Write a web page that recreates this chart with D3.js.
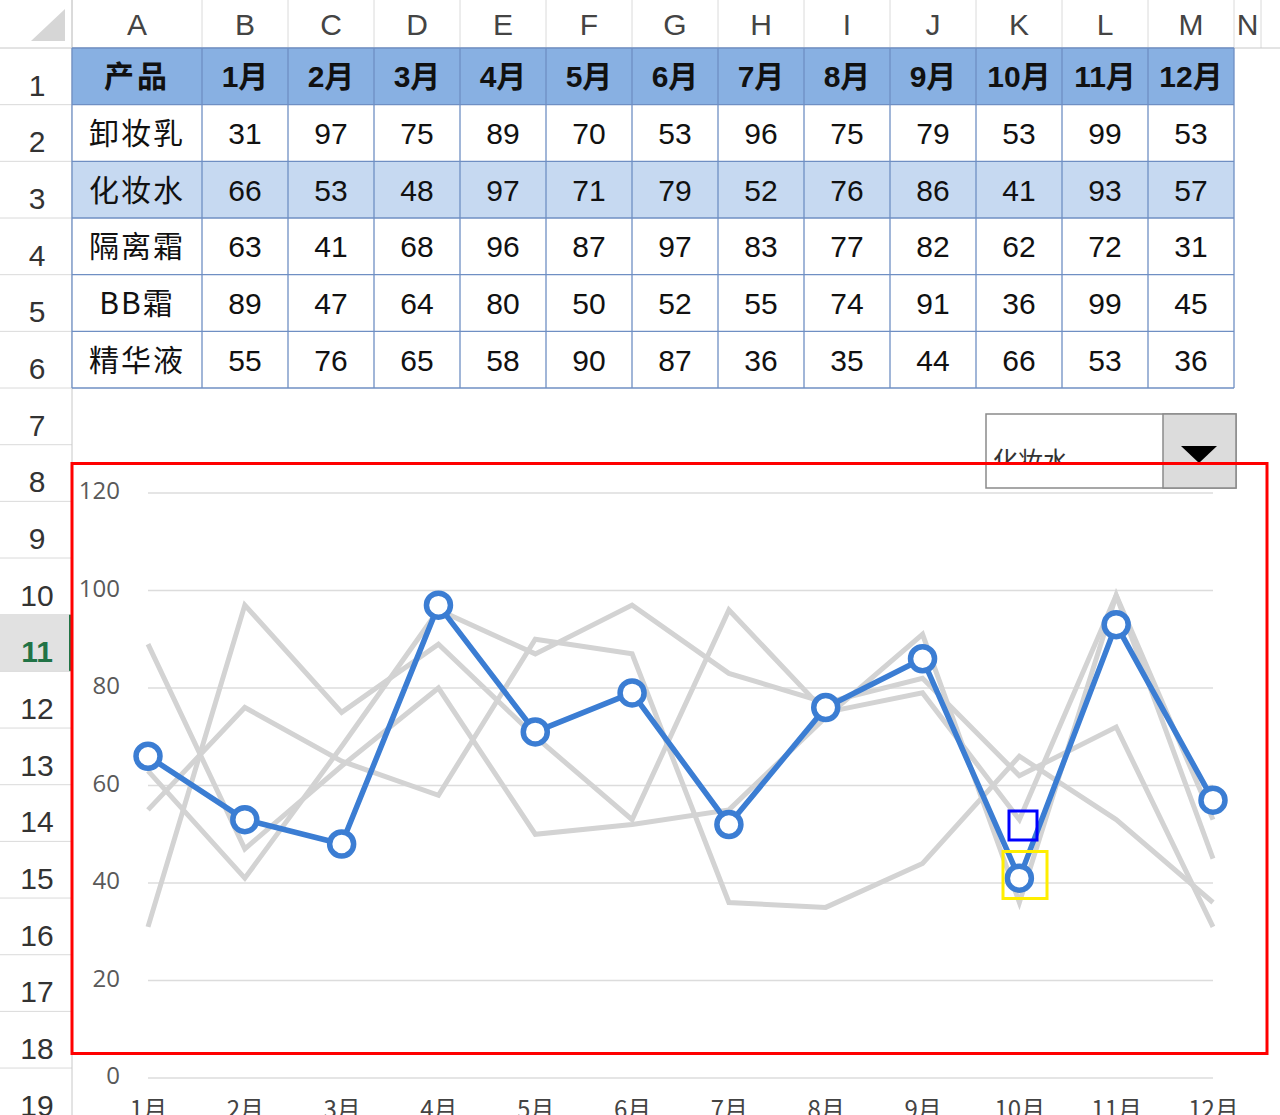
<!DOCTYPE html>
<html><head><meta charset="utf-8">
<script src="https://cdn.jsdelivr.net/npm/d3@7"></script>
<style>
html,body{margin:0;padding:0;background:#fff;overflow:hidden}
svg{display:block}
</style></head>
<body>
<svg id="c" width="1280" height="1115"></svg>
<script>
// ---------- data ----------
const months = ["1月","2月","3月","4月","5月","6月","7月","8月","9月","10月","11月","12月"];
const products = ["卸妆乳","化妆水","隔离霜","BB霜","精华液"];
const s卸妆乳 = [31,97,75,89,70,53,96,75,79,53,99,53];
const s化妆水 = [66,53,48,97,71,79,52,76,86,41,93,57];
const s隔离霜 = [63,41,68,96,87,97,83,77,82,62,72,31];
const sBB霜   = [89,47,64,80,50,52,55,74,91,36,99,45];
const s精华液 = [55,76,65,58,90,87,36,35,44,66,53,36];
const seriesValues = [s卸妆乳, s化妆水, s隔离霜, sBB霜, s精华液];
const selectedProduct = "化妆水";
const yTicks = [0,20,40,60,80,100,120];
const colLetters = ["A","B","C","D","E","F","G","H","I","J","K","L","M","N"];
const headerLabel = "产品";

// ---------- layout ----------
const svg = d3.select("#c");
const FONT = "'Liberation Sans','Noto Sans CJK SC',Arial,sans-serif";
const CJK = "'Noto Sans CJK SC','Liberation Sans',sans-serif";
const rowTop = 48, rowH = 56.67, rowHdrW = 72;
const colA = [72, 202];
const xBand = d3.scaleBand().domain(months).range([202, 1234]).paddingInner(0).paddingOuter(0);
const rowY = n => rowTop + (n - 1) * rowH;   // top of sheet row n (1-based)

// ---------- sheet chrome ----------
svg.append("rect").attr("x",0).attr("y",0).attr("width",1280).attr("height",48).attr("fill","#ffffff");
svg.append("rect").attr("x",0).attr("y",48).attr("width",rowHdrW).attr("height",1115-48).attr("fill","#ffffff");
svg.append("path").attr("d","M65,9 L65,41 L31,41 Z").attr("fill","#d6d6d6");

const colEdges = [72,202].concat(xBand.domain().map(m => xBand(m) + xBand.bandwidth())).concat([1261]);
colEdges.forEach(x => {
  svg.append("line").attr("x1",x).attr("x2",x).attr("y1",0).attr("y2",48).attr("stroke","#dadada").attr("stroke-width",1);
});
colLetters.forEach((L,i) => {
  const cx = (colEdges[i] + colEdges[i+1]) / 2;
  svg.append("text").attr("x",cx).attr("y",35).attr("text-anchor","middle")
    .attr("font-family",FONT).attr("font-size",30).attr("fill","#444").text(L);
});
svg.append("line").attr("x1",0).attr("x2",1280).attr("y1",48).attr("y2",48).attr("stroke","#c8c8c8");

for (let n = 1; n <= 19; n++) {
  const top = rowY(n), bot = rowY(n+1);
  if (n === 11) {
    svg.append("rect").attr("x",0).attr("y",top).attr("width",rowHdrW-2).attr("height",rowH).attr("fill","#e1e1e1");
    svg.append("line").attr("x1",rowHdrW-2).attr("x2",rowHdrW-2).attr("y1",top).attr("y2",bot).attr("stroke","#217346").attr("stroke-width",2);
  }
  svg.append("line").attr("x1",0).attr("x2",rowHdrW).attr("y1",bot).attr("y2",bot).attr("stroke","#dadada");
  svg.append("text").attr("x",37).attr("y",bot-9).attr("text-anchor","middle")
    .attr("font-family",FONT).attr("font-size",30)
    .attr("font-weight", n===11 ? "bold" : "normal")
    .attr("fill", n===11 ? "#217346" : "#333").text(n);
}
svg.append("line").attr("x1",rowHdrW).attr("x2",rowHdrW).attr("y1",0).attr("y2",1115).attr("stroke","#c8c8c8");

// ---------- table ----------
const tbl = svg.append("g");
const borderC = "#6f8fc3";
tbl.append("rect").attr("x",colA[0]).attr("y",rowY(1)).attr("width",1234-colA[0]).attr("height",rowH).attr("fill","#88b0e2");
products.forEach((p,i) => {
  const fill = p === selectedProduct ? "#c6d9f1" : "#ffffff";
  tbl.append("rect").attr("x",colA[0]).attr("y",rowY(i+2)).attr("width",1234-colA[0]).attr("height",rowH).attr("fill",fill);
});
for (let r = 0; r <= 6; r++) {
  const yy = rowY(r+1);
  tbl.append("line").attr("x1",colA[0]).attr("x2",1234).attr("y1",yy).attr("y2",yy).attr("stroke",borderC).attr("stroke-width",1.3);
}
colEdges.slice(0,14).forEach(x => {
  tbl.append("line").attr("x1",x).attr("x2",x).attr("y1",rowY(1)).attr("y2",rowY(7)).attr("stroke",borderC).attr("stroke-width",1.3);
});
tbl.append("text").attr("x",(colA[0]+colA[1])/2).attr("y",rowY(1)+rowH/2+11).attr("text-anchor","middle")
  .attr("font-family",CJK).attr("font-weight","bold").attr("font-size",30).attr("letter-spacing",3).attr("fill","#111").text(headerLabel);
months.forEach(m => {
  tbl.append("text").attr("x",xBand(m)+xBand.bandwidth()/2).attr("y",rowY(1)+rowH/2+11).attr("text-anchor","middle")
    .attr("font-family",FONT).attr("font-weight","bold").attr("font-size",30).attr("fill","#111").text(m);
});
products.forEach((p,i) => {
  const yy = rowY(i+2)+rowH/2+11;
  tbl.append("text").attr("x",(colA[0]+colA[1])/2).attr("y",yy).attr("text-anchor","middle")
    .attr("font-family",CJK).attr("font-size",30).attr("letter-spacing",2).attr("fill","#111").text(p);
  seriesValues[i].forEach((v,j) => {
    tbl.append("text").attr("x",xBand(months[j])+xBand.bandwidth()/2).attr("y",yy).attr("text-anchor","middle")
      .attr("font-family",FONT).attr("font-size",30).attr("fill","#111").text(v);
  });
});

// ---------- chart ----------
const chart = svg.append("g");

const x = d3.scalePoint().domain(months).range([148, 1213]);
const y = d3.scaleLinear().domain([0,120]).range([1078, 493]);

chart.append("g").selectAll("line").data(yTicks).join("line")
  .attr("x1",148).attr("x2",1213).attr("y1",d=>y(d)).attr("y2",d=>y(d))
  .attr("stroke","#dcdcdc").attr("stroke-width",1.5);
const yAxis = d3.axisLeft(y).tickValues(yTicks).tickSize(0).tickPadding(0);
const ya = chart.append("g").attr("transform","translate(120,-2)").call(yAxis);
ya.select(".domain").remove();
ya.selectAll("text").attr("font-family","'Open Sans','Noto Sans',sans-serif").attr("font-size",24).attr("fill","#595959");

const xAxis = d3.axisBottom(x).tickSize(0).tickPadding(0);
const xa = chart.append("g").attr("transform","translate(0,1101)").call(xAxis);
xa.select(".domain").remove();
xa.selectAll("text").attr("font-family",CJK).attr("font-size",24).attr("fill","#444").attr("dy","0.71em");

const line = d3.line().x((d,i)=>x(months[i])).y(d=>y(d));
products.forEach((p,i) => {
  if (p === selectedProduct) return;
  chart.append("path").datum(seriesValues[i]).attr("d",line)
    .attr("fill","none").attr("stroke","#d3d3d3").attr("stroke-width",5).attr("stroke-linejoin","miter");
});
const selVals = seriesValues[products.indexOf(selectedProduct)];
chart.append("path").datum(selVals).attr("d",line)
  .attr("fill","none").attr("stroke","#3b7dd3").attr("stroke-width",5.5).attr("stroke-linejoin","round");
chart.append("g").selectAll("circle").data(selVals).join("circle")
  .attr("cx",(d,i)=>x(months[i])).attr("cy",d=>y(d)).attr("r",12)
  .attr("fill","#ffffff").attr("stroke","#3b7dd3").attr("stroke-width",5.5);

// ---------- dropdown ----------
const dd = svg.append("g");
dd.append("clipPath").attr("id","ddclip").append("rect").attr("x",986).attr("y",414).attr("width",177).attr("height",50);
dd.append("rect").attr("x",986).attr("y",414).attr("width",250).attr("height",74).attr("fill","#ffffff").attr("stroke","#8a8a8a").attr("stroke-width",1.5);
dd.append("rect").attr("x",1163).attr("y",414).attr("width",73).attr("height",74).attr("fill","#dcdcdc").attr("stroke","#8a8a8a").attr("stroke-width",1.5);
dd.append("path").attr("d","M1181,446 L1217,446 L1199,463 Z").attr("fill","#000");
dd.append("text").attr("x",993).attr("y",470).attr("font-family",CJK).attr("font-size",25).attr("fill","#333")
  .attr("clip-path","url(#ddclip)").text(selectedProduct);

// ---------- annotation boxes ----------
svg.append("rect").attr("x",72).attr("y",463.5).attr("width",1195).attr("height",590).attr("fill","none").attr("stroke","#ff0000").attr("stroke-width",3);
svg.append("rect").attr("x",1009).attr("y",811).attr("width",28).attr("height",29).attr("fill","none").attr("stroke","#0000ff").attr("stroke-width",3);
svg.append("rect").attr("x",1003).attr("y",851.5).attr("width",44).attr("height",47).attr("fill","none").attr("stroke","#ffee00").attr("stroke-width",3);
</script>
</body></html>
